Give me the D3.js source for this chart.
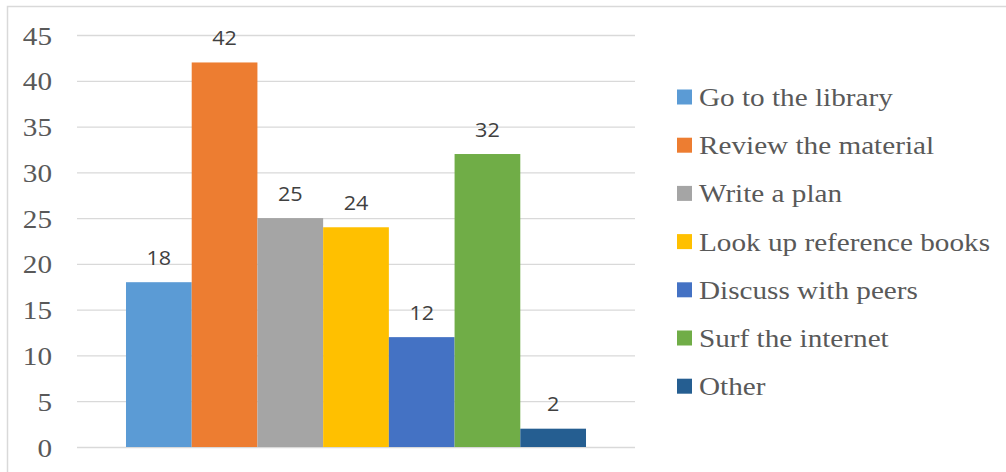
<!DOCTYPE html>
<html>
<head>
<meta charset="utf-8">
<script src="https://cdn.jsdelivr.net/npm/d3@7"></script>
<style>
  html, body { margin: 0; padding: 0; background: #fff; }
  svg { display: block; }
</style>
</head>
<body>
<svg id="chart" width="1006" height="472"></svg>
<script>
const series = ["Go to the library", "Review the material", "Write a plan", "Look up reference books", "Discuss with peers", "Surf the internet", "Other"];
const values = [18, 42, 25, 24, 12, 32, 2];
const colors = ["#5B9BD5", "#ED7D31", "#A5A5A5", "#FFC000", "#4472C4", "#70AD47", "#255E91"];
const yTicks = [0, 5, 10, 15, 20, 25, 30, 35, 40, 45];
const categories = [""];

const svg = d3.select("#chart");
const SX = 1.145;

// outer border
svg.append("rect")
  .attr("x", 7.5).attr("y", 6.5).attr("width", 1010).attr("height", 480)
  .attr("fill", "none").attr("stroke", "#D9D9D9").attr("stroke-width", 1.5);

const plotL = 77, plotR = 635;
const y = d3.scaleLinear().domain([0, 45]).range([447, 35]);
const x0 = d3.scaleBand().domain(categories).range([plotL, plotR]).paddingInner(0).paddingOuter(0.1065);
const x1 = d3.scaleBand().domain(series).range([0, x0.bandwidth()]).padding(0);

// gridlines
const grid = svg.append("g").attr("transform", `translate(${plotL},0)`)
  .call(d3.axisLeft(y).tickValues(yTicks).tickSize(-(plotR - plotL)).tickFormat(""));
grid.select(".domain").remove();
grid.selectAll(".tick line").attr("stroke", "#D9D9D9").attr("stroke-width", 1.3);

// tick labels
svg.append("g").selectAll("text").data(yTicks).join("text")
  .attr("transform", d => `translate(52,${y(d) + 9.5}) scale(${SX},1)`)
  .attr("text-anchor", "end")
  .attr("font-family", "'Liberation Serif', 'Times New Roman', serif")
  .attr("font-size", 25.5)
  .attr("fill", "#595959")
  .text(d => d);

// bars
const g = svg.append("g").attr("transform", `translate(${x0("")},0)`);
g.selectAll("rect").data(series).join("rect")
  .attr("x", d => x1(d))
  .attr("width", x1.bandwidth())
  .attr("y", (d, i) => y(values[i]))
  .attr("height", (d, i) => y(0) - y(values[i]))
  .attr("fill", (d, i) => colors[i]);

// data labels
g.selectAll("text").data(series).join("text")
  .attr("transform", (d, i) => `translate(${x1(d) + x1.bandwidth() / 2},${y(values[i]) - 17.5}) scale(1.08,1)`)
  .attr("text-anchor", "middle")
  .attr("font-family", "'Open Sans', sans-serif")
  .attr("font-size", 20)
  .attr("fill", "#404040")
  .text((d, i) => values[i]);

// legend
const leg = svg.append("g");
const legY0 = 97, legStep = 48.2;
const item = leg.selectAll("g").data(series).join("g")
  .attr("transform", (d, i) => `translate(677,${legY0 + i * legStep})`);
item.append("rect").attr("x", 0).attr("y", -7.5).attr("width", 15).attr("height", 15)
  .attr("fill", (d, i) => colors[i]);
item.append("text")
  .attr("transform", `translate(22,9) scale(${SX},1)`)
  .attr("font-family", "'Liberation Serif', 'Times New Roman', serif")
  .attr("font-size", 25.5)
  .attr("fill", "#595959")
  .text(d => d);
</script>
</body>
</html>
